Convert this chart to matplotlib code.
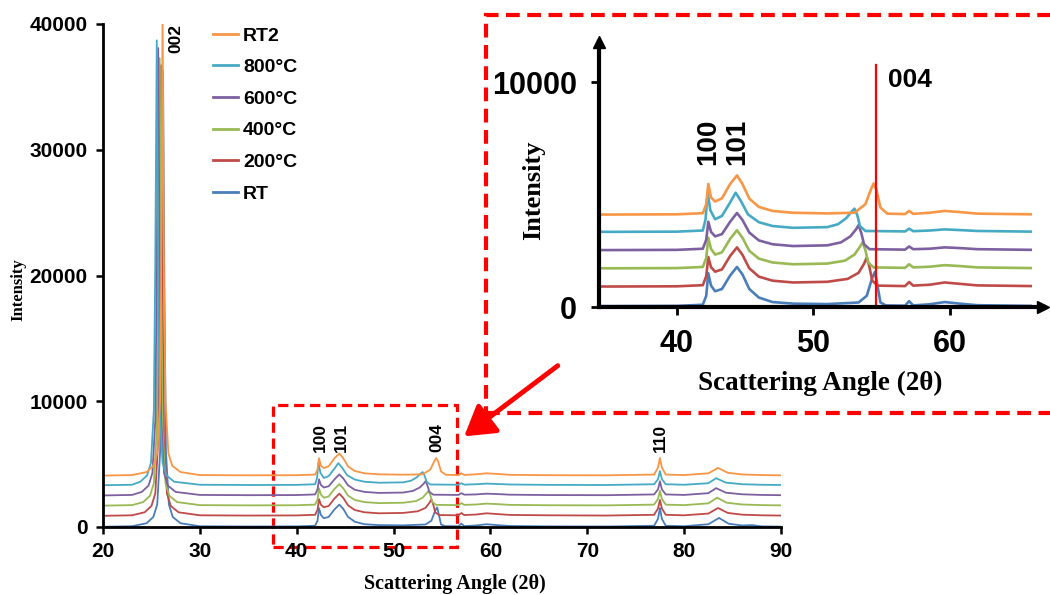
import matplotlib
matplotlib.use('Agg')
import matplotlib.pyplot as plt
from matplotlib.patches import Rectangle, FancyArrowPatch

# XRD patterns, intensity above each pattern's own baseline
labels = ['RT', '200°C', '400°C', '600°C', '800°C', 'RT2']
colors = ['#4A7EBB', '#BE4B48', '#98B954', '#7D60A0', '#46AAC5', '#F79646']
offsets = [0, 870, 1680, 2490, 3300, 4070]

rt_angle = [20, 23, 24.5, 25.2, 25.6, 25.9, 26.05, 26.2, 26.35, 26.5, 26.8, 27.2, 28, 30, 35, 40, 41.9, 42.15,
            42.3, 42.5, 42.8, 43.3, 43.9, 44.4, 44.8, 45.3, 46, 47, 48.5, 51, 53.3, 53.9, 54.3, 54.5, 54.7, 54.9,
            55.3, 56.7, 57.0, 57.3, 58.5, 59.6, 60.7, 62, 66, 72, 76.9, 77.3, 77.5, 77.7, 78.1, 80, 82.5, 83.6,
            84.6, 86, 87, 88, 90]
rt_int = [20, 60, 300, 800, 1800, 6000, 18000, 36300, 18000, 6000, 1800, 800, 300, 60, 40, 50, 100, 500,
          1500, 950, 700, 800, 1400, 1780, 1450, 800, 420, 220, 150, 130, 200, 500, 1300, 1560, 900, 200,
          70, 60, 260, 70, 120, 220, 150, 80, 50, 40, 100, 650, 1510, 650, 100, 60, 220, 720,
          260, 120, 150, 50, 30]

c200_angle = [20, 23, 24.3, 25.0, 25.4, 25.7, 25.85, 26.0, 26.15, 26.3, 26.6, 27.0, 27.8, 30, 35, 40, 41.9, 42.15,
              42.3, 42.5, 42.8, 43.3, 43.9, 44.4, 44.8, 45.3, 46, 47, 48.5, 51, 52.5, 53.3, 53.7, 53.9, 54.1, 54.3,
              54.7, 56.7, 57.0, 57.3, 58.5, 59.6, 60.7, 62, 66, 72, 76.9, 77.3, 77.5, 77.7, 78.1, 80, 82.5, 83.5,
              84.5, 86, 88, 90]
c200_int = [20, 60, 300, 800, 1800, 6000, 18000, 35850, 18000, 6000, 1800, 800, 300, 60, 40, 50, 100, 500,
            1350, 900, 700, 800, 1400, 1780, 1450, 850, 480, 300, 220, 250, 380, 650, 1050, 1330, 900, 300,
            80, 60, 240, 80, 120, 220, 160, 90, 60, 40, 100, 600, 1280, 600, 100, 60, 200, 640,
            250, 110, 60, 40]

c400_angle = [20, 23, 24.15, 24.85, 25.25, 25.55, 25.7, 25.85, 26.0, 26.15, 26.45, 26.85, 27.65, 30, 35, 40, 41.9,
              42.15, 42.3, 42.5, 42.8, 43.3, 43.9, 44.4, 44.8, 45.3, 46, 47, 48.5, 51, 52.3, 53.0, 53.4, 53.6, 53.8,
              54.0, 54.4, 56.7, 57.0, 57.3, 58.5, 59.6, 60.7, 62, 66, 72, 76.9, 77.3, 77.5, 77.7, 78.1, 80, 82.5,
              83.4, 84.4, 86, 88, 90]
c400_int = [20, 60, 300, 800, 1800, 6000, 18000, 35600, 18000, 6000, 1800, 800, 300, 60, 40, 50, 100,
            500, 1400, 900, 650, 750, 1350, 1730, 1400, 820, 470, 300, 220, 250, 380, 650, 1000, 1200, 850,
            300, 80, 60, 220, 80, 110, 180, 140, 80, 50, 40, 100, 550, 1200, 550, 100, 60, 200,
            650, 250, 110, 60, 40]

c600_angle = [20, 23, 24.0, 24.7, 25.1, 25.4, 25.55, 25.7, 25.85, 26.0, 26.3, 26.7, 27.5, 30, 35, 40, 41.9, 42.15,
              42.3, 42.5, 42.8, 43.3, 43.9, 44.4, 44.8, 45.3, 46, 47, 48.5, 51, 52.0, 52.7, 53.1, 53.3, 53.5, 53.7,
              54.1, 56.7, 57.0, 57.3, 58.5, 59.6, 60.7, 62, 66, 72, 76.9, 77.3, 77.5, 77.7, 78.1, 80, 82.5, 83.3,
              84.3, 86, 88, 90]
c600_int = [20, 60, 300, 800, 1800, 6000, 18000, 35600, 18000, 6000, 1800, 800, 300, 60, 40, 50, 100, 500,
            1300, 850, 650, 750, 1300, 1690, 1380, 820, 470, 300, 220, 250, 380, 650, 950, 1150, 800, 300,
            80, 60, 200, 80, 100, 160, 130, 80, 50, 40, 100, 500, 1150, 500, 100, 60, 200, 600,
            240, 110, 60, 40]

c800_angle = [20, 23, 23.85, 24.55, 24.95, 25.25, 25.4, 25.55, 25.7, 25.85, 26.15, 26.55, 27.35, 30, 35, 40, 41.9,
              42.1, 42.25, 42.45, 42.8, 43.3, 43.9, 44.3, 44.7, 45.2, 46, 47, 48.5, 51, 51.8, 52.4, 52.8, 53.0, 53.2,
              53.4, 53.8, 56.7, 57.0, 57.3, 58.5, 59.6, 60.7, 62, 66, 72, 76.9, 77.3, 77.5, 77.7, 78.1, 80, 82.5,
              83.3, 84.3, 86, 88, 90]
c800_int = [20, 60, 300, 800, 1800, 6000, 18000, 35400, 18000, 6000, 1800, 800, 300, 60, 40, 50, 100,
            600, 1800, 1000, 600, 750, 1350, 1780, 1400, 820, 470, 300, 220, 250, 380, 650, 950, 1070, 800,
            300, 80, 60, 180, 70, 100, 150, 120, 80, 50, 40, 100, 500, 1150, 500, 100, 60, 180,
            580, 230, 100, 60, 40]

rt2_angle = [20, 23, 24.5, 25.2, 25.6, 25.9, 26.0, 26.15, 26.3, 26.45, 26.75, 27.15, 28, 30, 35, 40, 41.9, 42.15,
             42.3, 42.5, 42.8, 43.3, 43.9, 44.4, 44.8, 45.3, 46, 47, 48.5, 51, 53.0, 53.8, 54.2, 54.4, 54.6, 54.9,
             55.4, 56.7, 57.0, 57.3, 58.5, 59.6, 60.7, 62, 66, 72, 76.9, 77.3, 77.5, 77.7, 78.1, 80, 82.5, 83.5,
             84.5, 86, 88, 90]
rt2_int = [20, 60, 300, 800, 1800, 6000, 15000, 37000, 15000, 6000, 1800, 800, 300, 60, 40, 50, 100, 500,
           1400, 800, 620, 760, 1400, 1780, 1400, 750, 380, 200, 120, 90, 120, 500, 1150, 1420, 1150, 350,
           80, 60, 200, 70, 120, 200, 150, 80, 50, 40, 100, 650, 1420, 650, 100, 60, 200, 630,
           240, 110, 60, 40]

angles = [rt_angle, c200_angle, c400_angle, c600_angle, c800_angle, rt2_angle]
intensities = [rt_int, c200_int, c400_int, c600_int, c800_int, rt2_int]

main_peaks = [('002', 27.5, 40000), ('100', 42.4, 6000), ('101', 44.6, 6000),
              ('004', 54.5, 6000), ('110', 77.5, 6000)]
inset_peaks = [('100', 42.3, 6300), ('101', 44.4, 6300)]
ref_line = 54.55

W, H = 1050, 595
tick_font = ['Liberation Sans', 'DejaVu Sans']
serif = ['Liberation Serif', 'DejaVu Serif']


def fx(px):
    return px / W


def fy(py):
    return 1 - py / H


fig = plt.figure(figsize=(W / 100, H / 100), dpi=100)

# ---- main pattern
ax = fig.add_axes([fx(103), fy(527), (781 - 103) / W, (527 - 24) / H])
lines = []
for a, i, off, c, lab in zip(angles, intensities, offsets, colors, labels):
    ln, = ax.plot(a, [v + off for v in i], color=c, lw=1.3, label=lab)
    lines.append(ln)
ax.set_xlim(20, 90)
ax.set_ylim(0, 40000)
ax.set_xticks(range(20, 91, 10))
ax.set_yticks(range(0, 40001, 10000))
for s in ['top', 'right']:
    ax.spines[s].set_visible(False)
for s in ['left', 'bottom']:
    ax.spines[s].set_linewidth(2)
ax.tick_params(direction='out', length=5, width=1.8, pad=6)
for t in ax.get_xticklabels() + ax.get_yticklabels():
    t.set_family(tick_font)
    t.set_fontweight('bold')
    t.set_fontsize(15)
for txt, x, y in main_peaks:
    ax.text(x, y, txt, rotation=90, ha='center', va='top' if txt == '002' else 'bottom',
            fontsize=12.5, fontweight='bold', family=tick_font)

ax.add_patch(Rectangle((37.5, -1600), 19, 11300, fill=False, ec='red', lw=2.3,
                       ls=(0, (3.2, 1.8)), clip_on=False))

leg = ax.legend(lines[::-1], labels[::-1], loc='upper left', bbox_to_anchor=(fx(213), fy(27)),
                bbox_transform=fig.transFigure, frameon=False, borderpad=0, borderaxespad=0,
                handlelength=1.3, handletextpad=0.25, labelspacing=0.72,
                prop={'family': tick_font, 'weight': 'bold', 'size': 14})
for h in leg.get_lines():
    h.set_linewidth(2)

fig.text(fx(18), fy(290), 'Intensity', rotation=90, ha='center', va='center',
         family=serif, fontweight='bold', fontsize=12)
fig.text(fx(455), fy(584), 'Scattering Angle (2θ)', ha='center', va='center',
         family=serif, fontweight='bold', fontsize=14.5)

# ---- zoomed inset
fig.add_artist(Rectangle((fx(486), fy(413)), (1065 - 486) / W, (413 - 15) / H, transform=fig.transFigure,
                         fill=False, ec='red', lw=3, ls=(0, (3.3, 1.8))))
fig.add_artist(FancyArrowPatch((fx(560), fy(364)), (fx(462), fy(438)), transform=fig.transFigure,
                               arrowstyle='-|>,head_length=0.9,head_width=0.55', mutation_scale=20,
                               lw=3.5, color='red'))

ax2 = fig.add_axes([fx(599), fy(307), (1043 - 599) / W, (307 - 42) / H])
ax2.patch.set_alpha(0)
clip = Rectangle((34.3, -2000), 66.0 - 34.3, 20000, transform=ax2.transData)
for a, i, off, c in zip(angles, intensities, offsets, colors):
    ln, = ax2.plot(a, [v + off for v in i], color=c, lw=1.9)
    ln.set_clip_path(clip)
ax2.set_xlim(34.3, 66.8)
ax2.set_ylim(0, 11780)
ax2.set_xticks([40, 50, 60])
ax2.set_yticks([0, 10000])
for s in ['top', 'right']:
    ax2.spines[s].set_visible(False)
for s in ['left', 'bottom']:
    ax2.spines[s].set_linewidth(3)
ax2.plot(1, 0, '>k', ms=9, transform=ax2.transAxes, clip_on=False)
ax2.plot(0, 1, '^k', ms=9, transform=ax2.transAxes, clip_on=False)
ax2.tick_params(direction='out', length=6, width=2, pad=10)
for t in ax2.get_xticklabels() + ax2.get_yticklabels():
    t.set_family(tick_font)
    t.set_fontweight('bold')
    t.set_fontsize(22)
ax2.plot([ref_line, ref_line], [0, 10750], color='red', lw=1.6)
ax2.text(ref_line + 0.9, 10100, '004', ha='left', va='center', fontsize=19, fontweight='bold',
         family=tick_font)
for txt, x, y in inset_peaks:
    ax2.text(x, y, txt, rotation=90, ha='center', va='bottom', fontsize=20, fontweight='bold',
             family=tick_font)

fig.text(fx(534), fy(190), 'Intensity', rotation=90, ha='center', va='center',
         family=serif, fontweight='bold', fontsize=19)
fig.text(fx(820), fy(383), 'Scattering Angle (2θ)', ha='center', va='center',
         family=serif, fontweight='bold', fontsize=19.5)

fig.savefig('out.png', dpi=100)
